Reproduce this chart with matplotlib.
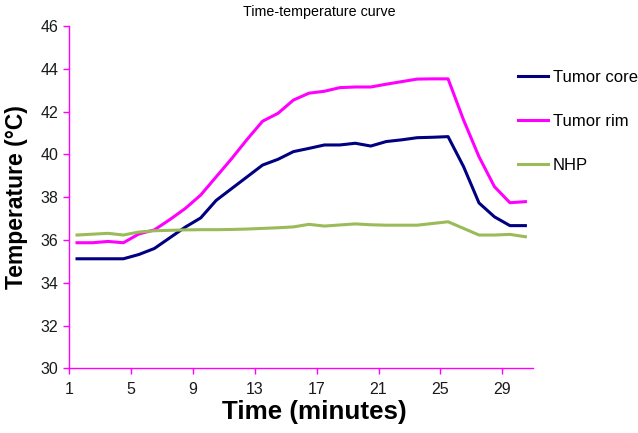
import matplotlib.pyplot as plt
import numpy as np

plt.rcParams['font.family'] = ['Liberation Sans', 'DejaVu Sans']

# 30 readings, one per minute, drawn in the middle of each category slot
minutes = np.arange(1, 31) + 0.5

tumor_core = [35.12, 35.12, 35.12, 35.12, 35.32, 35.60, 36.10, 36.60, 37.03, 37.85,
              38.40, 38.95, 39.50, 39.77, 40.13, 40.28, 40.44, 40.44, 40.52, 40.39,
              40.60, 40.68, 40.78, 40.80, 40.83, 39.43, 37.73, 37.08, 36.67, 36.67]

tumor_rim = [35.87, 35.87, 35.93, 35.87, 36.28, 36.47, 36.95, 37.47, 38.10, 38.95,
             39.80, 40.70, 41.55, 41.92, 42.54, 42.86, 42.95, 43.12, 43.15, 43.15,
             43.28, 43.40, 43.52, 43.53, 43.53, 41.61, 39.89, 38.49, 37.74, 37.79]

nhp = [36.23, 36.27, 36.31, 36.23, 36.37, 36.43, 36.45, 36.47, 36.48, 36.48,
       36.49, 36.51, 36.54, 36.57, 36.61, 36.73, 36.65, 36.70, 36.75, 36.71,
       36.69, 36.69, 36.69, 36.77, 36.85, 36.54, 36.23, 36.23, 36.26, 36.15]

x_ticks = [1, 5, 9, 13, 17, 21, 25, 29]
y_ticks = [30, 32, 34, 36, 38, 40, 42, 44, 46]

axis_col = '#FF00FF'

fig = plt.figure(figsize=(6.38, 4.33), dpi=100)
ax = fig.add_axes([0.1086, 0.1494, 0.727, 0.7905])

ax.plot(minutes, tumor_core, color='#000080', lw=2.2, label='Tumor core')
ax.plot(minutes, tumor_rim, color='#FF00FF', lw=2.2, label='Tumor rim')
ax.plot(minutes, nhp, color='#9BBB59', lw=2.2, label='NHP')

ax.set_xlim(1, 31)
ax.set_ylim(30, 46)
ax.set_xticks(x_ticks)
ax.set_yticks(y_ticks)

for s in ['top', 'right']:
    ax.spines[s].set_visible(False)
for s in ['left', 'bottom']:
    ax.spines[s].set_color(axis_col)
    ax.spines[s].set_linewidth(1.0)
ax.tick_params(axis='both', colors=axis_col, labelcolor='#1a1a1a',
               labelsize=11.5, length=4, width=1, direction='out')
ax.tick_params(axis='x', pad=5.5)
ax.tick_params(axis='y', pad=4)

fig.text(319 / 638, 1 - 12 / 433, 'Time-temperature curve', ha='center',
         va='center', fontsize=10.3)
fig.text(17 / 638, 1 - 197 / 433, 'Temperature (°C)', rotation=90, ha='center',
         va='center', fontsize=16.5, fontweight='bold')
fig.text(314 / 638, 1 - 412 / 433, 'Time (minutes)', ha='center', va='center',
         fontsize=18.7, fontweight='bold')

fig.legend(loc='upper left', bbox_to_anchor=(518 / 638, 1 - 70 / 433),
           frameon=False, fontsize=12, handlelength=1.8, handletextpad=0.3,
           labelspacing=1.75, borderpad=0, borderaxespad=0)

fig.savefig('out.png', dpi=100)
